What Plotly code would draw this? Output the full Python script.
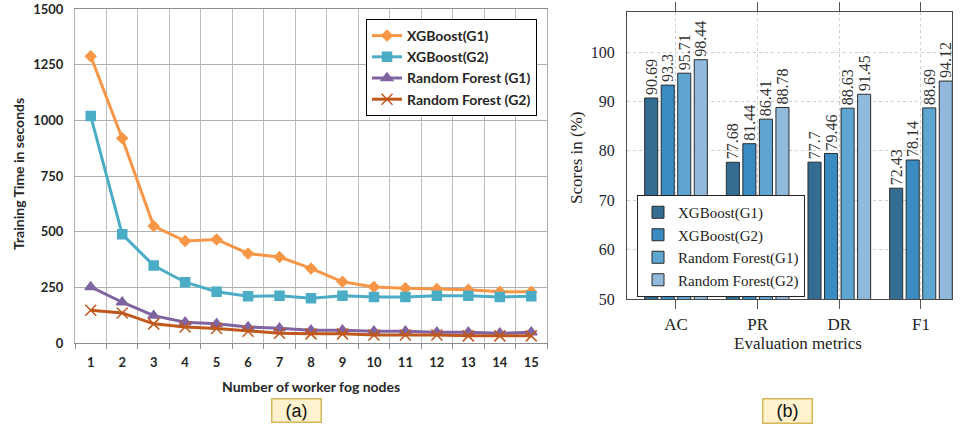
import plotly.graph_objects as go

# ---- data: left chart (training time) ----
nodes = list(range(1, 16))
xgb_g1 = [1288, 920, 525, 458, 465, 402, 386, 335, 275, 252, 246, 243, 239, 230, 230]
xgb_g2 = [1019, 488, 348, 273, 230, 210, 212, 201, 212, 207, 207, 212, 212, 207, 210]
rf_g1 = [252, 183, 123, 93, 86, 72, 66, 57, 57, 53, 53, 48, 48, 44, 48]
rf_g2 = [147, 135, 86, 72, 65, 53, 44, 41, 41, 36, 36, 36, 32, 32, 32]
left_names = ["XGBoost(G1)", "XGBoost(G2)", "Random Forest (G1)", "Random Forest (G2)"]
y_ticks_left = [0, 250, 500, 750, 1000, 1250, 1500]

# ---- data: right chart (scores) ----
metrics = ["AC", "PR", "DR", "F1"]
s_xgb_g1 = [90.69, 77.68, 77.7, 72.43]
s_xgb_g2 = [93.3, 81.44, 79.46, 78.14]
s_rf_g1 = [95.71, 86.41, 88.63, 88.69]
s_rf_g2 = [98.44, 88.78, 91.45, 94.12]
right_names = ["XGBoost(G1)", "XGBoost(G2)", "Random Forest(G1)", "Random Forest(G2)"]
y_ticks_right = [50, 60, 70, 80, 90, 100]

W, H = 963, 430
def px(x):
    return x / W
def py(y):
    return (H - y) / H

fig = go.Figure()

line_colors = ["#f79646", "#4bacc6", "#8064a2", "#c0571b"]
symbols = ["diamond", "square", "triangle-up", "x-thin-open"]
msizes = [8, 9, 10, 11]
for i, (name, vals) in enumerate(zip(left_names, [xgb_g1, xgb_g2, rf_g1, rf_g2])):
    fig.add_trace(go.Scatter(
        x=nodes, y=vals, name=name, mode="lines+markers",
        line=dict(color=line_colors[i], width=3),
        marker=dict(symbol=symbols[i], size=msizes[i], color=line_colors[i],
                    line=dict(color=line_colors[i], width=1.5)),
        xaxis="x", yaxis="y", legend="legend",
    ))

bar_colors = ["#336d91", "#3a8bc2", "#5ea6d1", "#90b9dc"]
for i, (name, vals) in enumerate(zip(right_names, [s_xgb_g1, s_xgb_g2, s_rf_g1, s_rf_g2])):
    fig.add_trace(go.Bar(
        x=metrics, y=vals, name=name,
        marker=dict(color=bar_colors[i], line=dict(color="#2b2b2b", width=1)),
        text=[str(v) for v in vals], textposition="outside", textangle=-90,
        constraintext="none", cliponaxis=False,
        textfont=dict(family="Liberation Serif", size=16, color="#333333"),
        xaxis="x2", yaxis="y2", legend="legend2",
    ))

sans = "Lato"
serif = "Liberation Serif"

def ann(text, x, y, font, angle=0, **kw):
    d = dict(text=text, x=px(x), y=py(y), xref="paper", yref="paper", showarrow=False,
             xanchor="center", yanchor="middle", textangle=angle, font=font)
    d.update(kw)
    return d

fig.update_layout(
    width=W, height=H, margin=dict(l=0, r=0, t=0, b=0),
    paper_bgcolor="white", plot_bgcolor="white",
    showlegend=True,
    barmode="group", bargap=0.19, bargroupgap=0.21,
    xaxis=dict(
        domain=[px(75), px(547)], range=[0.5, 15.5], automargin=False,
        tickmode="array", tickvals=nodes, ticktext=[str(n) for n in nodes],
        showgrid=False, ticks="", ticklabelstandoff=7,
        tickfont=dict(family=sans, size=13, color="#262626", weight="bold"),
        minor=dict(tickmode="linear", tick0=0.5, dtick=1, showgrid=True, gridcolor="#bdbdbd",
                   gridwidth=1, ticks="outside", ticklen=5, tickcolor="#8c8c8c"),
        showline=True, linecolor="#8c8c8c", linewidth=1.2, mirror=True,
        zeroline=False, anchor="y",
    ),
    yaxis=dict(
        domain=[py(343), py(9)], range=[0, 1500], automargin=False,
        tickvals=y_ticks_left, ticktext=[str(v) for v in y_ticks_left],
        showgrid=True, gridcolor="#b0b0b0", gridwidth=1, ticks="",
        tickfont=dict(family=sans, size=13, color="#262626", weight="bold"),
        showline=True, linecolor="#b0b0b0", linewidth=1, mirror=True,
        zeroline=False, anchor="x", ticklabelstandoff=8,
    ),
    xaxis2=dict(
        domain=[px(627), px(952)], range=[-0.6, 3.38], type="category", automargin=False,
        showgrid=True, gridcolor="#cfcfcf", griddash="dot", gridwidth=1,
        ticks="outside", ticklen=9, tickcolor="#555555", mirror="ticks",
        showline=True, linecolor="#4a4a4a", linewidth=1.3,
        tickfont=dict(family=serif, size=17, color="#222222"),
        anchor="y2", ticklabelstandoff=0,
    ),
    yaxis2=dict(
        domain=[py(299), py(12)], range=[50, 108.1], automargin=False,
        tickvals=y_ticks_right, ticktext=[str(v) for v in y_ticks_right],
        showgrid=True, gridcolor="#cfcfcf", griddash="dot", gridwidth=1,
        ticks="", showline=True, linecolor="#4a4a4a", linewidth=1.3, mirror=True,
        tickfont=dict(family=serif, size=16, color="#222233"),
        zeroline=False, anchor="x2", ticklabelstandoff=8,
    ),
    legend=dict(
        x=px(366), y=py(19), xanchor="left", yanchor="top",
        bgcolor="white", bordercolor="#000000", borderwidth=1,
        font=dict(family=sans, size=14, color="#262626", weight="bold"),
        itemwidth=30, traceorder="normal",
    ),
    legend2=dict(
        x=px(637), y=py(195), xanchor="left", yanchor="top",
        bgcolor="white", bordercolor="#222222", borderwidth=1,
        font=dict(family=serif, size=15, color="#222222"),
        itemwidth=30, traceorder="normal",
    ),
    annotations=[
        ann("Training Time in seconds", 18, 174,
            dict(family=sans, size=14, color="#262626", weight="bold"), angle=-90),
        ann("Number of worker fog nodes", 311, 386,
            dict(family=sans, size=14, color="#262626", weight="bold")),
        ann("Scores in (%)", 576, 158, dict(family=serif, size=17, color="#222222"), angle=-90),
        ann("Evaluation metrics", 798, 343, dict(family=serif, size=17, color="#222222")),
        ann("(a)", 296, 410, dict(family="Liberation Sans", size=18, color="#111111"),
            width=46, height=20, bgcolor="#fff2cc", bordercolor="#d6b656", borderwidth=1.5),
        ann("(b)", 787, 411, dict(family="Liberation Sans", size=18, color="#111111"),
            width=46, height=21, bgcolor="#fff2cc", bordercolor="#d6b656", borderwidth=1.5),
    ],
)

fig.write_html("out.html", config={"displayModeBar": False},
               post_script="document.body.style.margin='0';")
